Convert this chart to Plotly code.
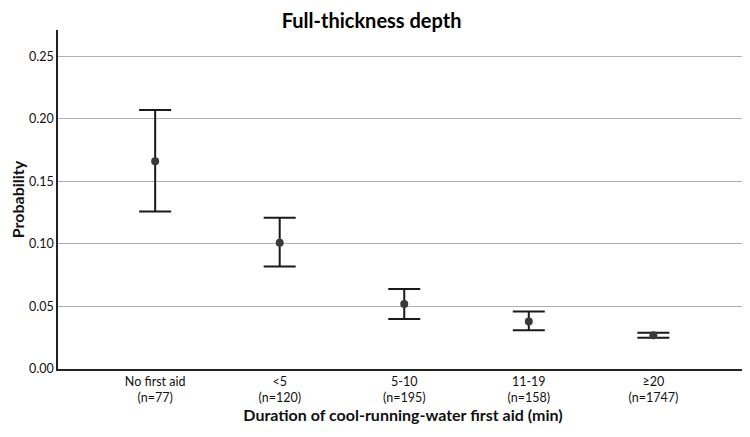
import plotly.graph_objects as go

categories = ["No first aid<br>(n=77)", "<5<br>(n=120)", "5-10<br>(n=195)", "11-19<br>(n=158)", "≥20<br>(n=1747)"]
prob = [0.166, 0.101, 0.052, 0.038, 0.027]
ci_low = [0.126, 0.082, 0.040, 0.031, 0.025]
ci_high = [0.207, 0.121, 0.064, 0.046, 0.029]
y_ticks = [0.0, 0.05, 0.10, 0.15, 0.20, 0.25]

x_idx = list(range(len(categories)))
err_plus = [h - p for h, p in zip(ci_high, prob)]
err_minus = [p - l for l, p in zip(ci_low, prob)]

font = "Lato, 'Open Sans', sans-serif"

fig = go.Figure()
fig.add_trace(go.Scatter(
    x=x_idx, y=prob, mode="markers",
    marker=dict(size=8, color="#3a3a3a"),
    error_y=dict(type="data", symmetric=False, array=err_plus, arrayminus=err_minus,
                 color="#1a1a1a", thickness=2, width=16),
    showlegend=False,
))

fig.update_layout(
    width=742, height=429,
    margin=dict(l=50, r=2, t=22, b=68),
    paper_bgcolor="white", plot_bgcolor="white",
    font=dict(family=font, size=12, color="#111"),
    title=dict(text="<b>Full-thickness depth</b>", x=0.49, xanchor="center", y=0.985, yanchor="top",
               font=dict(size=20, family=font, color="#000")),
    xaxis=dict(
        range=[-0.78, 4.76], tickmode="array", tickvals=x_idx, ticktext=categories,
        showgrid=False, zeroline=False, showline=True, linecolor="#222", linewidth=1.5,
        ticks="", tickfont=dict(size=12.5, color="#111"),
        title=dict(text="<b>Duration of cool-running-water first aid (min)</b>", font=dict(size=16, color="#111"), standoff=6),
    ),
    yaxis=dict(
        range=[0, 0.271], tickmode="array", tickvals=y_ticks,
        ticktext=[f"{v:.2f}" for v in y_ticks],
        showgrid=True, gridcolor="#b0b0b0", gridwidth=1.2, zeroline=False,
        showline=True, linecolor="#222", linewidth=1.5, ticks="",
        tickfont=dict(size=12.5, color="#111"),
        title=dict(text="<b>Probability</b>", font=dict(size=16, color="#111"), standoff=8),
    ),
)

fig.write_html("out.html")
